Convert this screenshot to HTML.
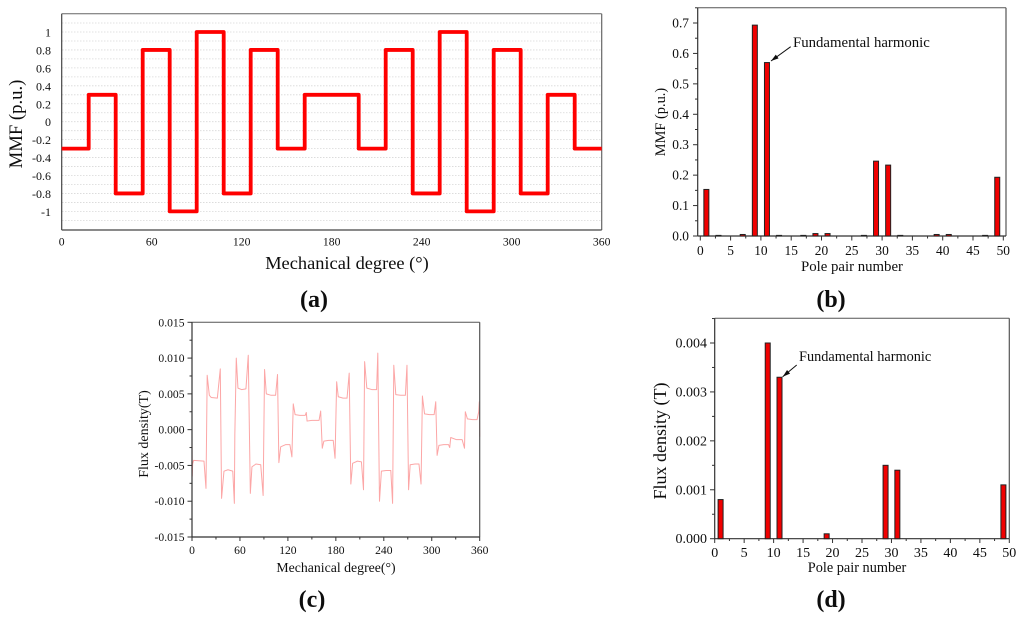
<!DOCTYPE html>
<html>
<head>
<meta charset="utf-8">
<title>MMF and flux density harmonic charts</title>
<style>
html,body{margin:0;padding:0;background:#fff;}
svg{display:block;}
text{font-family:"Liberation Serif",serif;fill:#111;}
</style>
</head>
<body>
<svg id="figure" width="1024" height="619" viewBox="0 0 1024 619" xmlns="http://www.w3.org/2000/svg">
  <defs>
    <filter id="soft" x="0" y="0" width="100%" height="100%"><feGaussianBlur stdDeviation="0.35"/></filter>
  </defs>
  <g filter="url(#soft)">
  <rect x="0" y="0" width="1024" height="619" fill="#fff"/>
  <g id="a"></g>
  <g id="b"></g>
  <g id="c"></g>
  <g id="d"></g>

  <text transform="translate(22,124) rotate(-90)" text-anchor="middle" font-size="18.7">MMF (p.u.)</text>
  <text x="347" y="269" text-anchor="middle" font-size="18.4">Mechanical degree (°)</text>
  <text x="314" y="307" text-anchor="middle" font-size="24" font-weight="bold">(a)</text>

  <text transform="translate(665,122) rotate(-90)" text-anchor="middle" font-size="14.4">MMF (p.u.)</text>
  <text x="852" y="271" text-anchor="middle" font-size="14.8">Pole pair number</text>
  <text x="793" y="47" font-size="14.8">Fundamental harmonic</text>
  <text x="831" y="307" text-anchor="middle" font-size="24" font-weight="bold">(b)</text>

  <text transform="translate(148,434) rotate(-90)" text-anchor="middle" font-size="14">Flux density(T)</text>
  <text x="336" y="572" text-anchor="middle" font-size="13.8">Mechanical degree(°)</text>
  <text x="312" y="607" text-anchor="middle" font-size="24" font-weight="bold">(c)</text>

  <text transform="translate(666,441) rotate(-90)" text-anchor="middle" font-size="18">Flux density (T)</text>
  <text x="857" y="572" text-anchor="middle" font-size="14.3">Pole pair number</text>
  <text x="799" y="361" font-size="14.3">Fundamental harmonic</text>
  <text x="831" y="607" text-anchor="middle" font-size="24" font-weight="bold">(d)</text>
  </g>
</svg>
<script>
// Panel (a): stepped MMF waveform
const mmfEdges = [0,18,36,54,72,90,108,126,144,162,198,216,234,252,270,288,306,324,342,360];
const mmfLevels = [-0.3,0.3,-0.8,0.8,-1,1,-0.8,0.8,-0.3,0.3,-0.3,0.8,-0.8,1,-1,0.8,-0.8,0.3,-0.3];
const mmfXTicks = [0,60,120,180,240,300,360];
const mmfYTicks = [1,0.8,0.6,0.4,0.2,0,-0.2,-0.4,-0.6,-0.8,-1];
const mmfGridValues = [1.1,1,0.9,0.8,0.7,0.6,0.5,0.4,0.3,0.2,0.1,0,-0.1,-0.2,-0.3,-0.4,-0.5,-0.6,-0.7,-0.8,-0.9,-1,-1.1];

// Panel (b): MMF harmonics
const mmfHarmonicOrders = [1,3,7,9,11,13,17,19,21,27,29,31,33,39,41,47,49];
const mmfHarmonicValues = [0.153,0.002,0.005,0.693,0.57,0.002,0.002,0.008,0.008,0.002,0.246,0.233,0.002,0.005,0.005,0.002,0.193];
const poleXTicks = [0,5,10,15,20,25,30,35,40,45,50];
const poleXMinorTicks = [2.5,7.5,12.5,17.5,22.5,27.5,32.5,37.5,42.5,47.5];
const mmfHarmonicYTicks = ["0.0","0.1","0.2","0.3","0.4","0.5","0.6","0.7"];
const mmfHarmonicYMinor = [0.05,0.15,0.25,0.35,0.45,0.55,0.65,0.75];

// Panel (c): flux density waveform
const fluxDegrees = [0,0.3,0.8,2,15,17.5,19,21.7,24,31.7,35.4,37,40,45,51,53,53.6,55.4,57.5,62,67.5,70.4,73,75,80,86,89,90.8,93,99,104.6,107,108.7,111,117,122.5,125,126.7,129,135,141.7,143,144,150,159,161,163,165,171,176.7,179,181,183,189,194,196.7,198.75,201,207,212,214.6,216,218.75,225,231,232.5,234.6,237,243,248.75,251,252.5,255,261,267,269,271,273,279,284,286.6,288.3,291,297,303,305,306.7,309,315,321,322.5,323.75,331,338,341,342,344.6,351,356.7,358.75,359.5,360];
const fluxValues = [-0.0015,-0.0065,-0.0048,-0.0043,-0.0044,-0.0082,0.0076,0.0048,0.0045,0.0044,0.0085,-0.0096,-0.0058,-0.0056,-0.0058,-0.0103,-0.0007,0.0100,0.0058,0.0056,0.0057,0.0104,-0.0089,-0.0052,-0.0048,-0.0049,-0.0092,0.0084,0.0050,0.0048,0.0048,0.0077,-0.0046,-0.0024,-0.0021,-0.0021,-0.0038,0.0036,0.0021,0.0020,0.0020,0.0024,0.0012,0.0013,0.0013,0.0026,-0.0026,-0.0016,-0.0015,-0.0015,-0.0040,0.0067,0.0046,0.0044,0.0044,0.0079,-0.0076,-0.0047,-0.0044,-0.0045,-0.0084,0.0095,0.0058,0.0056,0.0056,0.0107,-0.0100,-0.0058,-0.0057,-0.0057,-0.0103,0.0090,0.0049,0.0048,0.0048,0.0090,-0.0084,-0.0049,-0.0048,-0.0048,-0.0076,0.0047,0.0022,0.0021,0.0021,0.0039,-0.0036,-0.0022,-0.0021,-0.0021,-0.0025,-0.0011,-0.0014,-0.0014,-0.0026,0.0025,0.0015,0.0014,0.0014,0.0025,0.0039,-0.0010];
const fluxXTicks = [0,60,120,180,240,300,360];
const fluxXMinor = [30,90,150,210,270,330];
const fluxYTicks = ["0.015","0.010","0.005","0.000","-0.005","-0.010","-0.015"];
const fluxYMinor = [0.0125,0.0075,0.0025,-0.0025,-0.0075,-0.0125];

// Panel (d): flux density harmonics
const fluxHarmonicOrders = [1,9,11,19,29,31,49];
const fluxHarmonicValues = [0.0008,0.004,0.0033,0.0001,0.0015,0.0014,0.0011];
const fluxHarmonicYTicks = ["0.000","0.001","0.002","0.003","0.004"];
const fluxHarmonicYMinor = [0.0005,0.0015,0.0025,0.0035,0.0045];

const NS = 'http://www.w3.org/2000/svg';
function linear(d0, d1, r0, r1) {
  return function (v) { return r0 + (v - d0) * (r1 - r0) / (d1 - d0); };
}
function make(parent, tag, name, attrs) {
  const el = document.createElementNS(NS, tag);
  
  
  for (const k in attrs) el.setAttribute(k, attrs[k]);
  parent.appendChild(el);
  return el;
}
function line(parent, name, x1, y1, x2, y2, stroke, w, extra) {
  return make(parent, 'line', name, Object.assign({x1: x1, y1: y1, x2: x2, y2: y2, stroke: stroke, 'stroke-width': w}, extra || {}));
}
function label(parent, name, x, y, str, size, anchor) {
  const t = make(parent, 'text', name, {x: x, y: y, 'font-size': size, 'text-anchor': anchor});
  t.textContent = str;
  return t;
}
function frame(parent, l, t, r, b, axis, side) {
  line(parent, 'plot-border-top', l, t, r, t, side, 1);
  line(parent, 'plot-border-right', r, t, r, b, side, 1.2);
  line(parent, 'y-axis-line', l, t, l, b, axis, 1.2);
  line(parent, 'x-axis-line', l, b, r, b, axis, 1.2);
}
function bars(parent, orders, values, x, y, w) {
  orders.forEach(function (o, i) {
    const top = y(values[i]);
    make(parent, 'rect', 'bar-order-' + o, {
      x: x(o) - w / 2, y: top, width: w, height: Math.max(0.5, y(0) - top),
      fill: '#f00000', stroke: '#222', 'stroke-width': 1
    });
  });
}
function arrow(parent, name, x1, y1, x2, y2) {
  line(parent, name + '-shaft', x1, y1, x2, y2, '#111', 1);
  const a = Math.atan2(y2 - y1, x2 - x1), L = 8, s = 0.3;
  const p = [x2, y2, x2 - L * Math.cos(a - s), y2 - L * Math.sin(a - s), x2 - L * Math.cos(a + s), y2 - L * Math.sin(a + s)];
  make(parent, 'polygon', name + '-head', {points: p.join(' '), fill: '#111'});
}

// ---------- Panel a ----------
(function () {
  const g = document.getElementById('a');
  const x = linear(0, 360, 61.7, 601.7);
  const y = linear(0, 1, 121.7, 32);
  mmfGridValues.forEach(function (v) {
    line(g, 'gridline', 62, y(v), 601, y(v), '#d8d8d8', 0.8, {'stroke-dasharray': '1.5 1.5'});
  });
  frame(g, 61.7, 13.7, 601.7, 230, '#444', '#666');
  let pts = [];
  mmfLevels.forEach(function (v, i) {
    pts.push(x(mmfEdges[i]) + ',' + y(v));
    pts.push(x(mmfEdges[i + 1]) + ',' + y(v));
  });
  make(g, 'polyline', 'mmf-line', {points: pts.join(' '), fill: 'none', stroke: '#ff0000', 'stroke-width': 3.8, 'stroke-linejoin': 'round', 'stroke-linecap': 'butt'});
  mmfYTicks.forEach(function (v) {
    label(g, 'y-tick-label', 51, y(v) + 4.5, String(v), 12, 'end');
  });
  mmfXTicks.forEach(function (v) {
    label(g, 'x-tick-label', x(v), 245.5, String(v), 11.7, 'middle');
  });
})();

// ---------- Panel b ----------
(function () {
  const g = document.getElementById('b');
  const x = linear(0, 50, 700.3, 1003.3);
  const y = linear(0, 0.7, 236, 23);
  frame(g, 697.7, 7.7, 1006, 236, '#333', '#555');
  mmfHarmonicYTicks.forEach(function (s) {
    const v = parseFloat(s);
    line(g, 'y-major-tick', 693, y(v), 697.7, y(v), '#333', 1);
    label(g, 'y-tick-label', 689, y(v) + 4.5, s, 13.4, 'end');
  });
  mmfHarmonicYMinor.forEach(function (v) {
    line(g, 'y-minor-tick', 695, y(v), 697.7, y(v), '#333', 1);
  });
  poleXTicks.forEach(function (v) {
    line(g, 'x-major-tick', x(v), 236, x(v), 240.5, '#333', 1);
    label(g, 'x-tick-label', x(v), 255, String(v), 13.4, 'middle');
  });
  poleXMinorTicks.forEach(function (v) {
    line(g, 'x-minor-tick', x(v), 236, x(v), 238.5, '#333', 1);
  });
  bars(g, mmfHarmonicOrders, mmfHarmonicValues, x, y, 5);
  arrow(g, 'fundamental-arrow', 790.7, 46.7, 771, 61);
})();

// ---------- Panel c ----------
(function () {
  const g = document.getElementById('c');
  const x = linear(0, 360, 192, 479.7);
  const y = linear(-0.015, 0.015, 537, 322.3);
  let pts = fluxDegrees.map(function (d, i) { return x(d) + ',' + y(fluxValues[i]); });
  make(g, 'polyline', 'flux-density-line', {points: pts.join(' '), fill: 'none', stroke: '#fca6a6', 'stroke-width': 1, 'stroke-linejoin': 'round'});
  frame(g, 192, 322.3, 479.7, 537, '#333', '#555');
  fluxYTicks.forEach(function (s) {
    const v = parseFloat(s);
    line(g, 'y-major-tick', 187.5, y(v), 192, y(v), '#333', 1);
    label(g, 'y-tick-label', 184.5, y(v) + 4, s, 11.6, 'end');
  });
  fluxYMinor.forEach(function (v) {
    line(g, 'y-minor-tick', 189.5, y(v), 192, y(v), '#333', 1);
  });
  fluxXTicks.forEach(function (v) {
    line(g, 'x-major-tick', x(v), 537, x(v), 541, '#333', 1);
    label(g, 'x-tick-label', x(v), 554, String(v), 11.6, 'middle');
  });
  fluxXMinor.forEach(function (v) {
    line(g, 'x-minor-tick', x(v), 537, x(v), 539.5, '#333', 1);
  });
})();

// ---------- Panel d ----------
(function () {
  const g = document.getElementById('d');
  const x = linear(0, 50, 714.7, 1009.3);
  const y = linear(0, 0.004, 538.7, 343);
  frame(g, 714.7, 318.3, 1009.3, 538.7, '#333', '#555');
  fluxHarmonicYTicks.forEach(function (s) {
    const v = parseFloat(s);
    line(g, 'y-major-tick', 710, y(v), 714.7, y(v), '#333', 1);
    label(g, 'y-tick-label', 707, y(v) + 4.5, s, 14, 'end');
  });
  fluxHarmonicYMinor.forEach(function (v) {
    line(g, 'y-minor-tick', 712, y(v), 714.7, y(v), '#333', 1);
  });
  poleXTicks.forEach(function (v) {
    line(g, 'x-major-tick', x(v), 538.7, x(v), 543, '#333', 1);
    label(g, 'x-tick-label', x(v), 557, String(v), 14, 'middle');
  });
  poleXMinorTicks.forEach(function (v) {
    line(g, 'x-minor-tick', x(v), 538.7, x(v), 541, '#333', 1);
  });
  bars(g, fluxHarmonicOrders, fluxHarmonicValues, x, y, 5);
  arrow(g, 'fundamental-arrow', 796.7, 365, 782.7, 376.7);
})();
</script>
</body>
</html>
